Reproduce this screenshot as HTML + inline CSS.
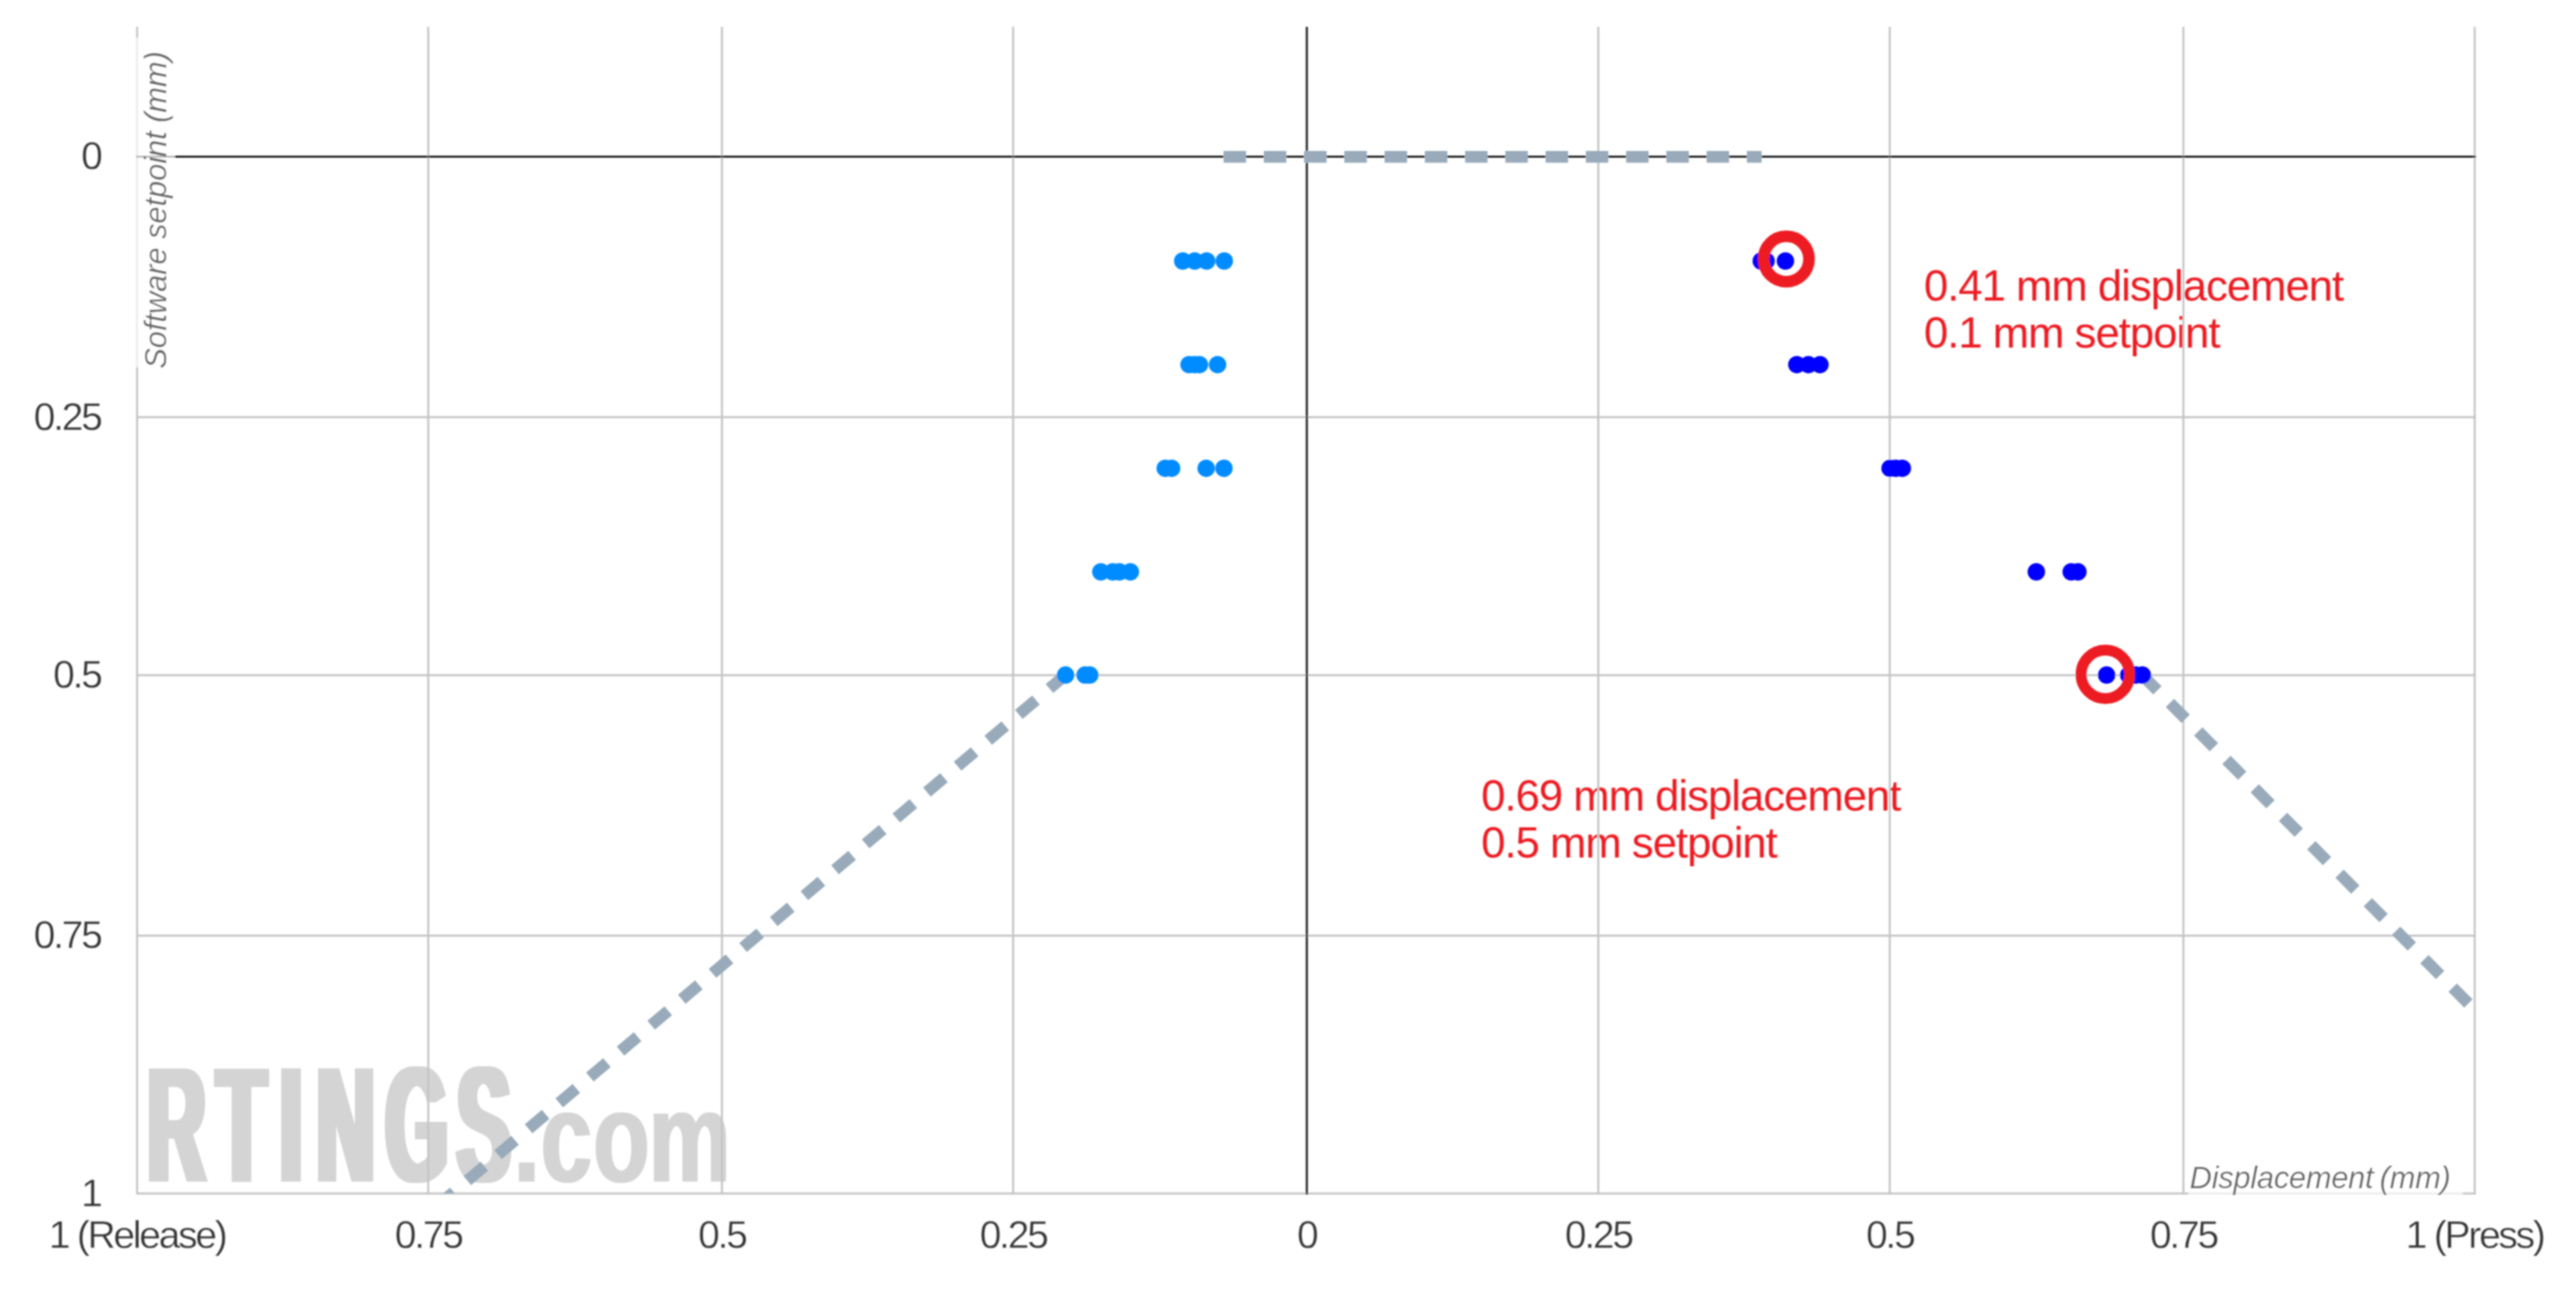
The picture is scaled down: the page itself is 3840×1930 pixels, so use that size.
<!DOCTYPE html>
<html lang="en"><head><meta charset="utf-8"><title>Displacement vs software setpoint</title>
<style>html,body{margin:0;padding:0;background:#fff;}body{width:3840px;height:1930px;overflow:hidden;}svg{display:block;}text{font-family:"Liberation Sans",sans-serif;}.tick{font-size:58px;fill:#363636;letter-spacing:-3.3px;stroke:#fff;stroke-width:0.3px;paint-order:fill stroke;}.ttl{font-size:46px;fill:#666;font-style:italic;letter-spacing:-0.1px;stroke:#fff;stroke-width:0.2px;paint-order:fill stroke;}.ann{font-size:65px;fill:#ed1c24;letter-spacing:-1.45px;}.wm{font-weight:bold;fill:#d4d4d4;}</style></head><body>
<svg width="3840" height="1930" viewBox="0 0 3840 1930">
<defs><clipPath id="plot"><rect x="204.4" y="40" width="3486.1" height="1738.75"/></clipPath>
<filter id="fat1" x="-5%" y="-5%" width="110%" height="110%"><feMorphology operator="dilate" radius="6 0.01"/></filter>
<filter id="fat2" x="-5%" y="-5%" width="110%" height="110%"><feMorphology operator="dilate" radius="1.6 0.01"/></filter>
<filter id="soft" x="0" y="0" width="100%" height="100%" filterUnits="userSpaceOnUse"><feGaussianBlur stdDeviation="0.8"/></filter>
</defs>
<rect width="3840" height="1930" fill="#fff"/>
<g filter="url(#soft)">
<g filter="url(#fat1)"><text class="wm" transform="translate(0,1760.8) scale(0.487755,1)" font-size="245" x="450.8 663.4 855.6 967.7 1178.6 1396.5" y="0">RTINGS</text></g>
<g filter="url(#fat2)"><text class="wm" transform="translate(0,1760.8) scale(0.717733,1)" font-size="190.6" x="1067.7 1123.5 1232.2 1347.5" y="0">.com</text></g>
<g class="ann">
<text x="2868" y="448">0.41 mm displacement</text>
<text x="2868" y="517.5">0.1 mm setpoint</text>
<text x="2208" y="1208">0.69 mm displacement</text>
<text x="2208" y="1277.5">0.5 mm setpoint</text>
</g>
<g stroke="#c4c4c4" stroke-width="3" fill="none">
<line x1="204.4" y1="40" x2="204.4" y2="1780.25"/>
<line x1="638.35" y1="40" x2="638.35" y2="1780.25"/>
<line x1="1076.2" y1="40" x2="1076.2" y2="1780.25"/>
<line x1="1510.25" y1="40" x2="1510.25" y2="1780.25"/>
<line x1="2382.55" y1="40" x2="2382.55" y2="1780.25"/>
<line x1="2817" y1="40" x2="2817" y2="1780.25"/>
<line x1="3254.75" y1="40" x2="3254.75" y2="1780.25"/>
<line x1="3689" y1="40" x2="3689" y2="1780.25"/>
<line x1="202.9" y1="621.75" x2="3690.5" y2="621.75"/>
<line x1="202.9" y1="1006.25" x2="3690.5" y2="1006.25"/>
<line x1="202.9" y1="1394.6" x2="3690.5" y2="1394.6"/>
<line x1="202.9" y1="1778.75" x2="3690.5" y2="1778.75"/>
</g>
<g stroke="#1c1c1c" stroke-width="3" fill="none">
<line x1="1948.1" y1="40" x2="1948.1" y2="1780.25"/>
<line x1="202.9" y1="233.4" x2="3690.5" y2="233.4"/>
</g>
<g clip-path="url(#plot)" stroke="#99abbb" stroke-width="17.5" fill="none" stroke-dasharray="33.3 26.5">
<path d="M1588.4 1005.9 L519.1 1909.5" stroke-dashoffset="2"/>
<path d="M1824 233.8 H2626" stroke-dasharray="33.5 26.5"/>
<path d="M3193.6 1006.3 L3757.4 1573.8" stroke-dashoffset="1.5"/>
</g>
<g fill="#008cff">
<circle cx="1763.1" cy="389" r="13"/>
<circle cx="1781" cy="389" r="13"/>
<circle cx="1798.75" cy="389" r="13"/>
<circle cx="1825" cy="389" r="13"/>
<circle cx="1772.5" cy="543.4" r="13"/>
<circle cx="1781" cy="543.4" r="13"/>
<circle cx="1788" cy="543.4" r="13"/>
<circle cx="1815" cy="543.4" r="13"/>
<circle cx="1737" cy="697.9" r="13"/>
<circle cx="1746.5" cy="697.9" r="13"/>
<circle cx="1798" cy="697.9" r="13"/>
<circle cx="1824.5" cy="697.9" r="13"/>
<circle cx="1641" cy="852.2" r="13"/>
<circle cx="1658.75" cy="852.2" r="13"/>
<circle cx="1668.75" cy="852.2" r="13"/>
<circle cx="1685" cy="852.2" r="13"/>
<circle cx="1588.4" cy="1006.1" r="13"/>
<circle cx="1617.5" cy="1006.1" r="13"/>
<circle cx="1624.5" cy="1006.1" r="13"/>
</g>
<g fill="#0000ff">
<circle cx="2625.5" cy="389" r="13"/>
<circle cx="2632.6" cy="389" r="13"/>
<circle cx="2661.5" cy="389" r="13"/>
<circle cx="2678.5" cy="543.4" r="13"/>
<circle cx="2695.75" cy="543.4" r="13"/>
<circle cx="2713" cy="543.4" r="13"/>
<circle cx="2817.5" cy="697.9" r="13"/>
<circle cx="2826" cy="697.9" r="13"/>
<circle cx="2835.75" cy="697.9" r="13"/>
<circle cx="3035.5" cy="852.2" r="13"/>
<circle cx="3087.5" cy="852.2" r="13"/>
<circle cx="3097.5" cy="852.2" r="13"/>
<circle cx="3140.3" cy="1006.1" r="13"/>
<circle cx="3173.2" cy="1006.1" r="13"/>
<circle cx="3183.4" cy="1006.1" r="13"/>
<circle cx="3193.6" cy="1006.1" r="13"/>
</g>
<g fill="none" stroke="#ed1c24">
<circle cx="2662.8" cy="386" r="33.9" stroke-width="17.3"/>
<circle cx="3138.4" cy="1005" r="36.2" stroke-width="16.2"/>
</g>
<rect x="202.5" y="56" width="58.2" height="491.5" fill="#fff" fill-opacity="0.7"/>
<text class="ttl" transform="translate(247.8,549.5) rotate(-90)">Software setpoint (mm)</text>
<rect x="3262" y="1722" width="409" height="60" fill="#fff" fill-opacity="0.7"/>
<text class="ttl" x="3653" y="1770.5" text-anchor="end" style="letter-spacing:-0.4px;word-spacing:-3px">Displacement (mm)</text>
<g class="tick" text-anchor="end">
<text x="150" y="252.2">0</text>
<text x="150" y="640.55">0.25</text>
<text x="150" y="1025.05">0.5</text>
<text x="150" y="1413.4">0.75</text>
<text x="150" y="1797.55">1</text>
</g>
<g class="tick" text-anchor="middle">
<text x="204.4" y="1860">1 (Release)</text>
<text x="638.35" y="1860">0.75</text>
<text x="1076.2" y="1860">0.5</text>
<text x="1510.25" y="1860">0.25</text>
<text x="1948.1" y="1860">0</text>
<text x="2382.55" y="1860">0.25</text>
<text x="2817" y="1860">0.5</text>
<text x="3254.75" y="1860">0.75</text>
<text x="3689" y="1860">1 (Press)</text>
</g>
</g>
</svg></body></html>
